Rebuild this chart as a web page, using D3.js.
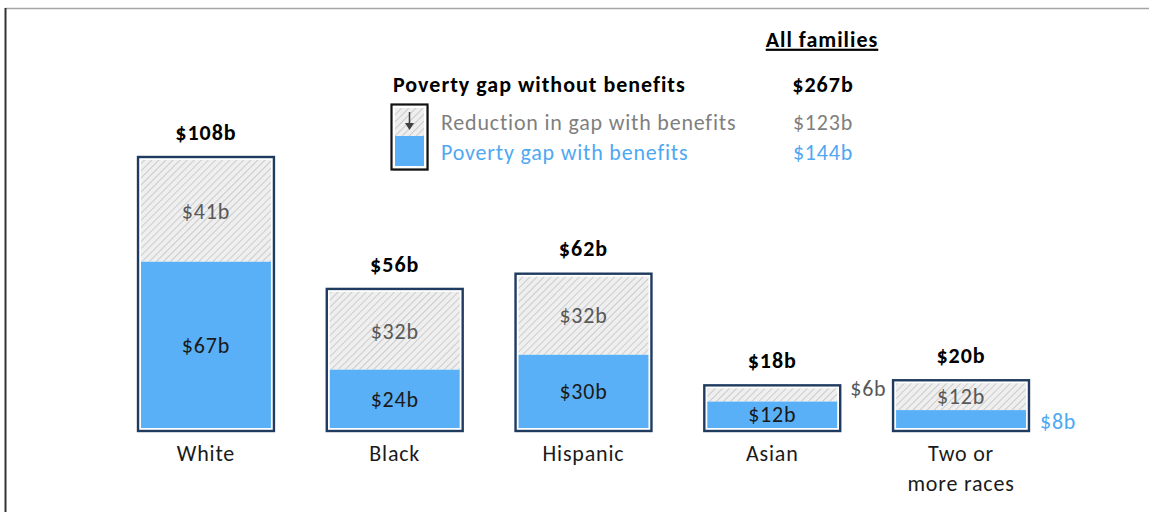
<!DOCTYPE html>
<html><head><meta charset="utf-8">
<script src="https://cdn.jsdelivr.net/npm/d3@7"></script>
<style>body{margin:0;background:#fff}svg{display:block}text{font-family:Carlito,Lato,"Open Sans",sans-serif;letter-spacing:0.8px}text.b{font-weight:bold;letter-spacing:1px}</style>
</head><body><svg id="c" width="1149" height="512"></svg>
<script>
const categories = ["White","Black","Hispanic","Asian","Two or more races"];
const categoryLines = [["White"],["Black"],["Hispanic"],["Asian"],["Two or","more races"]];
const gapWithBenefits = [67,24,30,12,8];
const reductionWithBenefits = [41,32,32,6,12];
const gapWithoutBenefits = [108,56,62,18,20];
const allFamilies = {without:267, reduction:123, withB:144};
const fmt = v => "$" + v + "b";

const BLUE = "#5AB0F7", NAVY = "#1F3B60", GRAY_TXT = "#595959", BLUE_TXT = "#4FA8F2";
const FS = 22;
const svg = d3.select("#c");
const defs = svg.append("defs");
const pat = defs.append("pattern").attr("id","hatch").attr("patternUnits","userSpaceOnUse")
  .attr("width",5).attr("height",5).attr("patternTransform","rotate(45)");
pat.append("rect").attr("width",5).attr("height",5).attr("fill","#efefef");
pat.append("line").attr("x1",0).attr("y1",0).attr("x2",0).attr("y2",5).attr("stroke","#c4c4c4").attr("stroke-width",1.6);

// frame lines
svg.append("line").attr("x1",5).attr("x2",1149).attr("y1",8.5).attr("y2",8.5).attr("stroke","#a6a6a6").attr("stroke-width",1.5);
svg.append("line").attr("x1",5.5).attr("x2",5.5).attr("y1",8).attr("y2",512).attr("stroke","#333").attr("stroke-width",2);

const x = d3.scaleBand().domain(categories).range([111.6,1055.4]).paddingInner(0.28).paddingOuter(0.14);
const y = d3.scaleLinear().domain([0,108]).range([431,157]);
const inset = 3;

const g = svg.append("g");
categories.forEach((c,i)=>{
  const x0 = x(c), w = x.bandwidth();
  const tot = gapWithoutBenefits[i], bl = gapWithBenefits[i], rd = reductionWithBenefits[i];
  g.append("rect").attr("x",x0).attr("y",y(tot)).attr("width",w).attr("height",y(0)-y(tot))
    .attr("fill","#fff").attr("stroke",NAVY).attr("stroke-width",2.4);
  const yb = y(0)-inset;
  const sc = (y(0)-y(tot)-2*inset)/(y(0)-y(tot));
  const blueTop = yb - (y(0)-y(bl))*sc;
  const topIn = y(tot)+inset;
  g.append("rect").attr("x",x0+inset).attr("y",topIn).attr("width",w-2*inset).attr("height",blueTop-topIn).attr("fill","url(#hatch)");
  g.append("rect").attr("x",x0+inset).attr("y",blueTop).attr("width",w-2*inset).attr("height",yb-blueTop).attr("fill",BLUE);
  const cx = x0 + w/2;
  g.append("text").attr("class","b").attr("x",cx).attr("y",y(tot)-25).attr("dy","0.35em").attr("text-anchor","middle")
    .attr("font-size",FS).attr("fill","#000").text(fmt(tot));
  const hH = blueTop-topIn, bH = yb-blueTop;
  if (hH >= 20) {
    g.append("text").attr("x",cx).attr("y",(topIn+blueTop)/2).attr("dy","0.35em").attr("text-anchor","middle")
      .attr("font-size",FS).attr("fill",GRAY_TXT).text(fmt(rd));
  } else {
    g.append("text").attr("x",x0+w+10).attr("y",y(tot)+3).attr("dy","0.35em").attr("text-anchor","start")
      .attr("font-size",FS).attr("fill",GRAY_TXT).text(fmt(rd));
  }
  if (bH >= 22) {
    g.append("text").attr("x",cx).attr("y",(blueTop+yb)/2).attr("dy","0.35em").attr("text-anchor","middle")
      .attr("font-size",FS).attr("fill","#1a1a1a").text(fmt(bl));
  } else {
    g.append("text").attr("x",x0+w+11).attr("y",(blueTop+yb)/2+2).attr("dy","0.35em").attr("text-anchor","start")
      .attr("font-size",FS).attr("fill",BLUE_TXT).text(fmt(bl));
  }
  categoryLines[i].forEach((ln,j)=>{
    g.append("text").attr("x",cx).attr("y",453+j*30).attr("dy","0.35em").attr("text-anchor","middle")
      .attr("font-size",FS).attr("fill","#1a1a1a").text(ln);
  });
});

// legend
const L = svg.append("g");
L.append("text").attr("class","b").attr("x",822).attr("y",39).attr("dy","0.35em").attr("text-anchor","middle")
  .attr("font-size",FS).attr("text-decoration","underline").text("All families");
L.append("text").attr("class","b").attr("x",393).attr("y",84).attr("dy","0.35em").attr("font-size",FS).text("Poverty gap without benefits");
L.append("text").attr("class","b").attr("x",823).attr("y",84).attr("dy","0.35em").attr("text-anchor","middle").attr("font-size",FS).text(fmt(allFamilies.without));
L.append("text").attr("x",441).attr("y",122).attr("dy","0.35em").attr("font-size",FS).attr("fill","#7f7f7f").text("Reduction in gap with benefits");
L.append("text").attr("x",823).attr("y",122).attr("dy","0.35em").attr("text-anchor","middle").attr("font-size",FS).attr("fill","#7f7f7f").text(fmt(allFamilies.reduction));
L.append("text").attr("x",441).attr("y",152).attr("dy","0.35em").attr("font-size",FS).attr("fill",BLUE_TXT).text("Poverty gap with benefits");
L.append("text").attr("x",823).attr("y",152).attr("dy","0.35em").attr("text-anchor","middle").attr("font-size",FS).attr("fill",BLUE_TXT).text(fmt(allFamilies.withB));
L.append("rect").attr("x",393).attr("y",106).attr("width",36).attr("height",65).attr("fill","#999").attr("opacity",0.5);
L.append("rect").attr("x",391.5).attr("y",104.5).attr("width",36).attr("height",65).attr("fill","#fff").attr("stroke","#111").attr("stroke-width",2.2);
L.append("rect").attr("x",395).attr("y",108).attr("width",29).attr("height",28).attr("fill","url(#hatch)");
L.append("rect").attr("x",395).attr("y",136).attr("width",29).attr("height",30).attr("fill",BLUE);
L.append("line").attr("x1",409.5).attr("x2",409.5).attr("y1",112).attr("y2",127).attr("stroke","#404040").attr("stroke-width",1.5);
L.append("path").attr("d","M405,123 L409.5,130 L414,123 Z").attr("fill","#404040");
</script></body></html>
